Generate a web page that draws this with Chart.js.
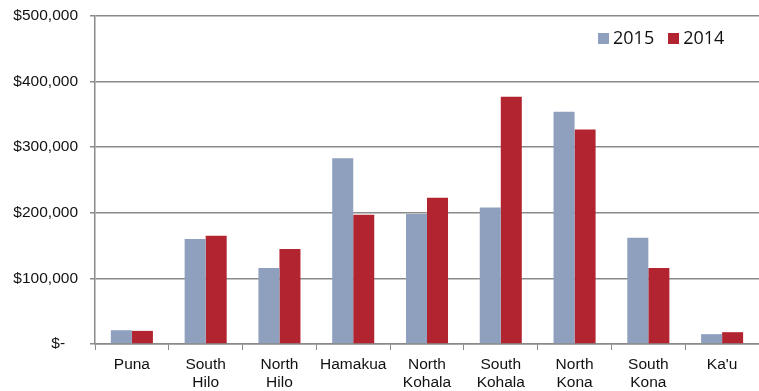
<!DOCTYPE html>
<html>
<head>
<meta charset="utf-8">
<script src="https://cdn.jsdelivr.net/npm/chart.js@4/dist/chart.umd.min.js"></script>
<style>
  html, body { margin: 0; padding: 0; background: #fff; }
  #wrap { position: relative; width: 759px; height: 391px; }
  #legend { position: absolute; left: 598px; top: 25px; font: 18px "Open Sans", "Liberation Sans", sans-serif; color: #111; white-space: nowrap; }
  #legend span.box { display: inline-block; width: 11px; height: 11px; margin-right: 4px; vertical-align: 0px; }
  #legend span.item { margin-right: 14px; }
</style>
</head>
<body>
<div id="wrap">
  <canvas id="chart" width="759" height="391"></canvas>
  <div id="legend"></div>
</div>
<script>
// distritos y montos por año
const distritos = [["Puna"], ["South", "Hilo"], ["North", "Hilo"], ["Hamakua"], ["North", "Kohala"],
  ["South", "Kohala"], ["North", "Kona"], ["South", "Kona"], ["Ka'u"]];
const serie2015 = [21000, 160000, 116000, 283000, 198000, 208000, 354000, 162000, 15000];
const serie2014 = [20000, 165000, 145000, 197000, 223000, 377000, 327000, 116000, 18000];
const etiquetas = ["2015", "2014"];
const colores = ["#8EA0BD", "#B22530"];

const gris = "#8a8a8a";
const fuente = { family: "'Liberation Sans', Arial, sans-serif", size: 15.5 };

const chart = new Chart(document.getElementById("chart"), {
  type: "bar",
  data: {
    labels: distritos,
    datasets: [
      { label: etiquetas[0], data: serie2015, backgroundColor: colores[0] },
      { label: etiquetas[1], data: serie2014, backgroundColor: colores[1] }
    ]
  },
  options: {
    responsive: false,
    animation: false,
    layout: { padding: { top: 16, right: 0, left: 0, bottom: 0 } },
    plugins: { legend: { display: false }, tooltip: { enabled: false } },
    datasets: { bar: { categoryPercentage: 0.57, barPercentage: 1 } },
    scales: {
      x: {
        grid: { display: true, drawOnChartArea: false, drawTicks: true, tickLength: 6, color: gris, offset: true },
        border: { color: gris, width: 1.5 },
        ticks: { color: "#111", font: fuente, padding: 5, maxRotation: 0 },
        afterFit: s => { s.height = 47; s.paddingLeft = 0; s.paddingRight = 0; }
      },
      y: {
        min: 0, max: 500000,
        grid: { color: gris, lineWidth: 1.5, tickLength: 5 },
        border: { color: gris, width: 1.5 },
        ticks: {
          stepSize: 100000, color: "#111", font: { ...fuente, lineHeight: 0.5 }, padding: 12,
          callback: v => v === 0 ? "$-   " : "$" + v.toLocaleString("en-US")
        },
        afterFit: s => { s.width = 95; s.paddingTop = 0; s.paddingBottom = 0; }
      }
    }
  }
});

document.getElementById("legend").innerHTML = etiquetas.map((t, i) =>
  `<span class="item"><span class="box" style="background:${colores[i]}"></span>${t}</span>`).join("");
</script>
</body>
</html>
